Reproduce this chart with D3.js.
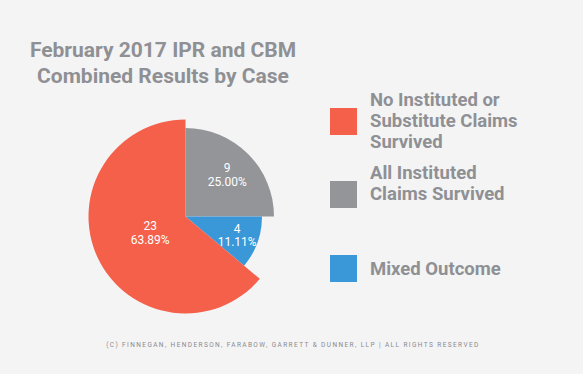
<!DOCTYPE html>
<html>
<head>
  <meta charset="utf-8">
  <title>February 2017 IPR and CBM</title>
  <script src="https://cdn.jsdelivr.net/npm/d3@7"></script>
  <style>
    body { margin: 0; background: #f4f4f5; }
    svg text { font-family: "Roboto", sans-serif; }
  </style>
</head>
<body>
  <div id="chart"></div>
  <script>
    // data
    const categories = ["All Instituted Claims Survived", "Mixed Outcome", "No Instituted or Substitute Claims Survived"];
    const counts = [9, 4, 23];
    const percents = ["25.00%", "11.11%", "63.89%"];
    const legendOrder = [2, 0, 1];
    const legendLines = [["No Instituted or", "Substitute Claims", "Survived"], ["All Instituted", "Claims Survived"], ["Mixed Outcome"]];

    const w = 583, h = 374;
    const colors = ["#949599", "#3a98d9", "#f4604a"];
    const radii = [88.5, 76.5, 97];
    const labelR = [59, 55, 39];
    const textGray = "#8f9094";

    const svg = d3.select("#chart").append("svg")
      .attr("width", w).attr("height", h);

    svg.append("rect").attr("width", w).attr("height", h).attr("fill", "#f4f4f5");

    // title
    const title = svg.append("text")
      .attr("text-anchor", "middle")
      .attr("fill", textGray)
      .attr("font-weight", "bold")
      .attr("font-size", 21);
    title.append("tspan").attr("x", 163).attr("y", 57).text("February 2017 IPR and CBM");
    title.append("tspan").attr("x", 163).attr("y", 83).text("Combined Results by Case");

    // pie
    const pie = d3.pie().sort(null).value(d => d)(counts);
    const g = svg.append("g").attr("transform", "translate(185.5,216.5)");

    g.selectAll("path")
      .data(pie)
      .enter()
      .append("path")
      .attr("d", (d, i) => d3.arc().innerRadius(0).outerRadius(radii[i])(d))
      .attr("fill", (d, i) => colors[i]);

    // slice labels: count above, percent below
    const labelPos = (d, i) => d3.arc().innerRadius(labelR[i]).outerRadius(labelR[i]).centroid(d);
    const lblText = [(d, i) => counts[i], (d, i) => percents[i]];
    [-2.5, 11].forEach((dy, k) => {
      g.selectAll("text.lbl" + k)
        .data(pie)
        .enter()
        .append("text")
        .attr("class", "lbl" + k)
        .attr("text-anchor", "middle")
        .attr("fill", "#ffffff")
        .attr("font-family", "Lato, sans-serif")
        .attr("font-size", 12)
        .attr("x", (d, i) => labelPos(d, i)[0])
        .attr("y", (d, i) => labelPos(d, i)[1] + dy)
        .text(lblText[k]);
    });

    // legend
    const legendY = [108, 181, 255];
    const leg = svg.selectAll("g.leg")
      .data(legendOrder)
      .enter()
      .append("g")
      .attr("class", "leg")
      .attr("transform", (d, i) => `translate(330,${legendY[i]})`);

    leg.append("rect")
      .attr("width", 27).attr("height", 27)
      .attr("fill", d => colors[d]);

    leg.each(function (d, i) {
      const t = d3.select(this).append("text")
        .attr("fill", textGray)
        .attr("font-weight", "bold")
        .attr("font-size", 18.5);
      const lines = legendLines[i];
      lines.forEach((s, k) => {
        const y0 = lines.length === 1 ? 19.5 : -2;
        t.append("tspan").attr("x", 40).attr("y", y0 + k * 21).text(s);
      });
    });

    // footer
    svg.append("text")
      .attr("x", 293).attr("y", 347)
      .attr("text-anchor", "middle")
      .attr("fill", "#8a8a8e")
      .attr("font-family", "DejaVu Sans, sans-serif")
      .attr("font-size", 6.5)
      .attr("letter-spacing", 1.4)
      .text("(C) FINNEGAN, HENDERSON, FARABOW, GARRETT & DUNNER, LLP | ALL RIGHTS RESERVED");
  </script>
</body>
</html>
